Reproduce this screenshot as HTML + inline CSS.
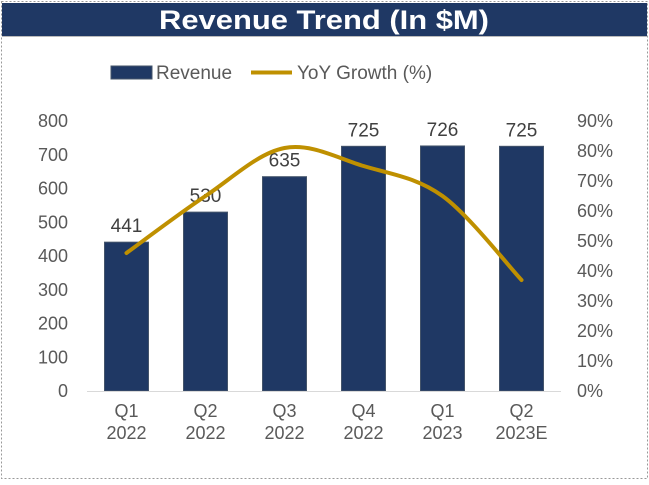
<!DOCTYPE html>
<html><head><meta charset="utf-8"><style>
body{margin:0;background:#fff;width:649px;height:480px;overflow:hidden;font-family:"Liberation Sans",sans-serif}
</style></head><body>
<svg width="649" height="480">
<rect x="1.5" y="1.5" width="646" height="477" fill="#fff" stroke="#999" stroke-dasharray="2,2"/>
<rect x="2" y="3" width="645" height="33" fill="#1f3864"/>
<line x1="2" y1="36.5" x2="647" y2="36.5" stroke="#bbb"/>
<text x="324" y="29" text-anchor="middle" font-size="27" font-weight="bold" fill="#fff" textLength="330" lengthAdjust="spacingAndGlyphs">Revenue Trend (In $M)</text>
<rect x="111" y="66" width="41" height="13" fill="#1f3864" stroke="#44546a"/>
<text x="156" y="79" font-size="19" fill="#595959">Revenue</text>
<line x1="251" y1="72.5" x2="292" y2="72.5" stroke="#bf9000" stroke-width="4"/>
<text x="297" y="79" font-size="19" fill="#595959">YoY Growth (%)</text>
<g id="plot"></g>
</svg>
<script>
const categories=["Q1|2022","Q2|2022","Q3|2022","Q4|2022","Q1|2023","Q2|2023E"];
const revenue=[441,530,635,725,726,725];
const growth=[46,65,81,75,65,37];
const leftTicks=[0,100,200,300,400,500,600,700,800];
const rightTicks=[0,10,20,30,40,50,60,70,80,90];
const NS="http://www.w3.org/2000/svg";
const g=document.getElementById('plot');
const x0=87,step=79,y0=391,yTop=121;
const yL=v=>y0-(v/800)*(y0-yTop);
const yR=v=>y0-(v/90)*(y0-yTop);
const xc=i=>x0+step*(i+0.5);
function mk(t,a,txt){const e=document.createElementNS(NS,t);for(const k in a)e.setAttribute(k,a[k]);if(txt!==undefined)e.textContent=txt;g.appendChild(e);return e;}
leftTicks.forEach(v=>{const e=mk('text',{x:68,y:yL(v)+6,'text-anchor':'end','font-size':18,fill:'#595959'},v);

});
rightTicks.forEach(v=>{const e=mk('text',{x:577,y:yR(v)+6,'font-size':18,fill:'#595959'},v+'%');

});
revenue.forEach((v,i)=>{const b=mk('rect',{x:xc(i)-22,y:yL(v),width:44,height:y0-yL(v),fill:'#1f3864',stroke:'#44546a'});


const t=mk('text',{x:xc(i),y:yL(v)-10,'text-anchor':'middle','font-size':19,fill:'#404040'},v);


const p=categories[i].split('|');
const c=mk('text',{x:xc(i),y:417,'text-anchor':'middle','font-size':18,fill:'#595959'});


p.forEach((s,j)=>{const ts=document.createElementNS(NS,'tspan');ts.setAttribute('x',xc(i));ts.setAttribute('dy',j?22:0);ts.textContent=s;c.appendChild(ts);});});
const ax=mk('line',{x1:x0,y1:y0+0.5,x2:x0+step*6,y2:y0+0.5,stroke:'#d9d9d9'});


const pts=growth.map((v,i)=>[xc(i),yR(v)]);
let d='M'+pts[0];
for(let i=0;i<pts.length-1;i++){const p0=pts[i-1]||pts[i],p1=pts[i],p2=pts[i+1],p3=pts[i+2]||p2;
const c1=[p1[0]+(p2[0]-p0[0])/6,p1[1]+(p2[1]-p0[1])/6],c2=[p2[0]-(p3[0]-p1[0])/6,p2[1]-(p3[1]-p1[1])/6];
d+=' C'+c1+' '+c2+' '+p2;}
const ln=mk('path',{d:d,fill:'none',stroke:'#bf9000','stroke-width':4,'stroke-linecap':'round'});


</script>
</body></html>
